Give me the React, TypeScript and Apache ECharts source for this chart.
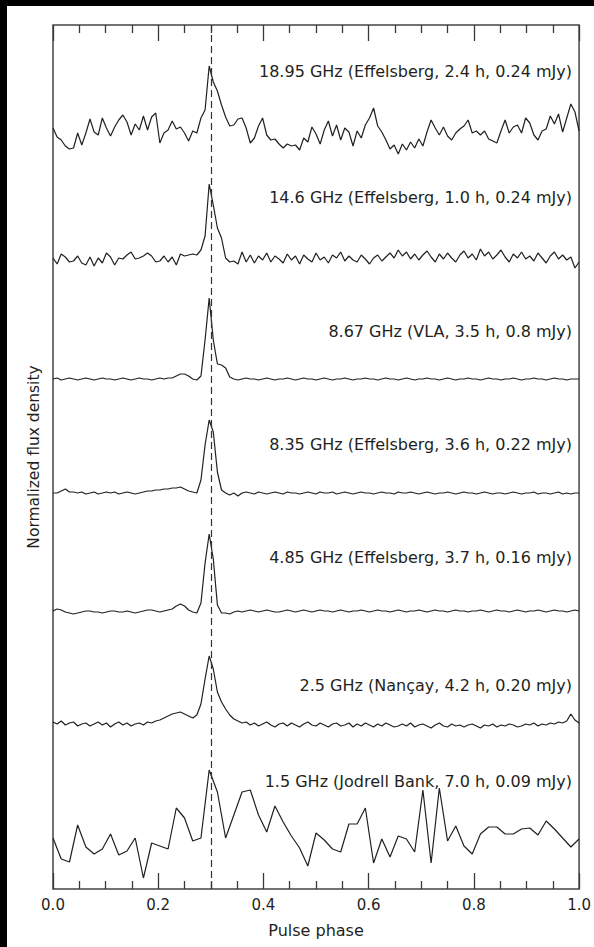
import React, { useEffect, useRef } from "react";
import * as echarts from "echarts";

// ---------- data ----------
const bandLabels = [
  "18.95 GHz (Effelsberg, 2.4 h, 0.24 mJy)",
  "14.6 GHz (Effelsberg, 1.0 h, 0.24 mJy)",
  "8.67 GHz (VLA, 3.5 h, 0.8 mJy)",
  "8.35 GHz (Effelsberg, 3.6 h, 0.22 mJy)",
  "4.85 GHz (Effelsberg, 3.7 h, 0.16 mJy)",
  "2.5 GHz (Nançay, 4.2 h, 0.20 mJy)",
  "1.5 GHz (Jodrell Bank, 7.0 h, 0.09 mJy)",
];

const phaseTickLabels = ["0.0", "0.2", "0.4", "0.6", "0.8", "1.0"];

// vertical offset (baseline) of each profile, normalized flux units
const offsets = [7.59, 6.31, 5.1, 3.96, 2.78, 1.65, 0.53];

const flux1895 = [
  0.02, -0.07, -0.10, -0.16, -0.19, -0.18, -0.03, -0.15, -0.03, 0.11,
  -0.02, -0.05, 0.12, 0.02, -0.06, 0.03, 0.10, 0.15, 0.08, -0.05,
  0.06, 0.00, 0.14, 0.00, 0.13, 0.17, -0.13, -0.03, 0.00, 0.09,
  0.01, 0.03, -0.03, -0.11, -0.01, -0.03, 0.12, 0.20, 0.64, 0.48,
  0.39, 0.25, 0.13, 0.04, 0.05, 0.11, 0.12, 0.02, -0.13, -0.08,
  0.04, 0.12, -0.05, -0.10, -0.09, -0.14, -0.18, -0.14, -0.16, -0.15,
  -0.20, -0.08, -0.12, 0.03, -0.04, -0.14, 0.00, 0.09, -0.06, 0.05,
  -0.10, 0.02, -0.02, -0.16, -0.01, -0.08, 0.05, 0.12, 0.22, 0.04,
  -0.02, -0.10, -0.19, -0.15, -0.24, -0.14, -0.20, -0.12, -0.18, -0.09,
  -0.16, -0.02, 0.10, 0.02, -0.05, 0.03, -0.06, -0.10, -0.03, 0.01,
  0.04, 0.10, -0.03, -0.01, -0.05, -0.01, -0.09, -0.11, -0.13, -0.01,
  0.10, -0.03, 0.03, 0.05, -0.03, 0.12, 0.07, -0.05, -0.10, -0.01,
  0.01, 0.14, 0.06, 0.16, -0.02, 0.12, 0.26, 0.18, -0.01,
];

const flux146 = [
  0.00, -0.06, 0.04, 0.01, -0.04, -0.03, 0.02, -0.05, -0.07, 0.01,
  -0.08, 0.00, -0.05, 0.05, 0.01, -0.07, 0.00, -0.01, 0.03, 0.06,
  -0.01, 0.00, 0.02, 0.05, 0.02, -0.04, -0.03, 0.02, -0.04, 0.01,
  -0.07, 0.04, 0.02, 0.03, 0.04, 0.03, 0.08, 0.22, 0.74, 0.53,
  0.30, 0.20, 0.00, -0.04, -0.03, -0.06, 0.06, -0.04, 0.03, -0.05,
  0.02, -0.02, 0.05, -0.04, 0.02, -0.01, -0.05, 0.04, -0.02, 0.02,
  -0.06, 0.03, -0.01, -0.04, 0.05, -0.02, 0.01, -0.05, 0.03, 0.00,
  0.06, -0.03, 0.02, -0.02, -0.04, 0.03, -0.01, -0.06, 0.00, 0.03,
  -0.03, 0.01, 0.05, 0.00, 0.08, 0.02, 0.06, -0.01, 0.04, -0.02,
  0.03, 0.07, 0.01, -0.04, 0.04, -0.01, 0.05, 0.00, -0.04, 0.03,
  0.07, 0.00, 0.04, -0.02, 0.09, 0.02, 0.06, -0.01, 0.03, 0.08,
  0.01, -0.04, 0.04, 0.00, 0.06, -0.01, 0.02, -0.03, 0.05, 0.00,
  -0.05, 0.02, 0.06, -0.01, 0.03, -0.02, 0.01, -0.10, -0.04,
];

const flux867 = [
  0.00, 0.01, -0.01, 0.00, 0.01, 0.00, -0.01, 0.00, 0.01, 0.00,
  -0.01, 0.00, 0.01, 0.00, 0.00, -0.01, 0.00, 0.01, 0.00, -0.01,
  0.00, 0.01, 0.00, 0.00, -0.01, 0.00, 0.01, 0.00, 0.01, 0.01,
  0.03, 0.05, 0.05, 0.03, 0.00, -0.01, 0.03, 0.39, 0.81, 0.39,
  0.15, 0.14, 0.11, 0.02, 0.00, -0.01, 0.00, 0.01, 0.00, 0.00,
  -0.01, 0.00, 0.01, 0.00, -0.01, 0.00, 0.00, 0.01, 0.00, -0.01,
  0.00, 0.01, 0.00, 0.00, -0.01, 0.00, 0.01, 0.00, -0.01, 0.00,
  0.00, 0.01, 0.00, -0.01, 0.00, 0.00, 0.01, 0.00, 0.00, -0.01,
  0.00, 0.01, 0.00, 0.00, -0.01, 0.00, 0.01, 0.00, -0.01, 0.00,
  0.00, 0.01, 0.00, 0.00, -0.01, 0.00, 0.01, 0.00, -0.01, 0.00,
  0.00, 0.01, 0.00, 0.00, -0.01, 0.00, 0.01, 0.00, 0.00, -0.01,
  0.00, 0.00, 0.01, 0.00, -0.01, 0.00, 0.00, 0.01, 0.00, 0.00,
  -0.01, 0.00, 0.01, 0.00, 0.00, -0.01, 0.00, 0.00, 0.00,
];

const flux835 = [
  0.00, 0.00, 0.02, 0.04, 0.01, 0.01, 0.00, 0.01, -0.01, 0.00,
  0.01, -0.01, 0.00, 0.01, 0.00, 0.01, -0.01, 0.00, 0.01, 0.00,
  -0.01, 0.00, 0.01, 0.02, 0.02, 0.03, 0.03, 0.04, 0.04, 0.05,
  0.05, 0.06, 0.04, 0.02, 0.01, 0.00, 0.13, 0.48, 0.73, 0.61,
  0.21, 0.03, 0.00, -0.02, 0.00, -0.03, 0.00, 0.01, 0.00, -0.01,
  0.01, 0.00, -0.01, 0.00, 0.01, 0.00, -0.01, 0.01, 0.00, 0.00,
  -0.01, 0.00, 0.01, 0.00, -0.01, 0.01, 0.00, 0.00, 0.01, -0.01,
  0.00, 0.01, 0.00, -0.01, 0.00, 0.01, 0.00, 0.00, -0.01, 0.00,
  0.01, 0.00, 0.00, -0.01, 0.01, 0.00, 0.00, 0.01, 0.00, -0.01,
  0.00, 0.01, 0.00, -0.01, 0.00, 0.00, 0.01, 0.00, -0.01, 0.00,
  0.01, 0.00, 0.00, -0.01, 0.00, 0.01, 0.00, -0.01, 0.00, 0.00,
  -0.01, 0.00, 0.01, 0.00, -0.01, 0.00, 0.00, 0.01, -0.01, 0.00,
  0.00, -0.01, 0.00, 0.01, -0.01, 0.00, -0.01, 0.00, 0.00,
];

const flux485 = [
  0.00, 0.02, 0.01, -0.01, -0.02, -0.03, -0.02, -0.01, 0.00, 0.00,
  -0.01, -0.01, -0.02, -0.01, 0.00, 0.00, -0.01, -0.01, 0.00, -0.01,
  -0.02, -0.01, 0.00, 0.01, 0.01, 0.00, -0.01, 0.00, 0.01, 0.02,
  0.05, 0.07, 0.05, 0.01, -0.01, -0.02, 0.08, 0.48, 0.77, 0.52,
  0.06, -0.02, -0.02, -0.03, -0.01, 0.00, -0.01, 0.00, 0.01, 0.00,
  -0.01, 0.00, 0.01, 0.00, -0.01, -0.01, 0.00, 0.01, 0.00, -0.01,
  0.00, 0.01, 0.00, -0.01, 0.00, 0.01, 0.00, 0.00, -0.01, 0.00,
  0.01, 0.00, -0.01, 0.00, 0.00, 0.01, 0.00, -0.01, 0.00, 0.01,
  0.00, 0.00, -0.01, 0.00, 0.01, 0.00, -0.01, 0.00, 0.00, 0.01,
  0.00, -0.01, 0.00, 0.01, 0.00, 0.00, -0.01, 0.00, 0.01, 0.00,
  0.00, -0.01, 0.00, 0.00, 0.01, 0.00, -0.01, 0.00, 0.01, 0.00,
  0.00, -0.01, 0.00, 0.01, 0.00, -0.01, 0.00, 0.00, 0.01, 0.00,
  -0.01, 0.00, 0.01, 0.00, 0.00, -0.01, 0.00, 0.01, 0.00,
];

const flux25 = [
  0.02, 0.00, 0.03, -0.01, 0.01, 0.02, -0.02, 0.00, 0.01, -0.02,
  0.00, 0.02, -0.01, 0.01, -0.03, 0.00, 0.02, -0.01, 0.01, -0.02,
  0.00, 0.01, -0.01, 0.02, 0.01, 0.03, 0.04, 0.06, 0.08, 0.10,
  0.11, 0.12, 0.10, 0.08, 0.06, 0.09, 0.20, 0.45, 0.68, 0.55,
  0.32, 0.22, 0.15, 0.09, 0.05, 0.03, 0.01, 0.02, -0.01, 0.01,
  -0.02, 0.00, 0.02, -0.01, -0.03, 0.00, 0.01, -0.02, 0.01, -0.01,
  -0.03, 0.00, 0.02, -0.01, -0.02, 0.01, -0.01, -0.03, 0.00, 0.01,
  -0.02, -0.01, 0.01, -0.03, 0.00, -0.02, 0.01, -0.01, -0.03, 0.00,
  -0.02, 0.01, -0.01, -0.03, -0.02, 0.00, -0.02, 0.01, -0.03, -0.01,
  0.00, -0.02, -0.04, -0.01, 0.01, -0.02, -0.03, 0.00, -0.02, -0.01,
  -0.03, -0.01, 0.00, -0.02, -0.04, -0.01, -0.02, 0.00, -0.03, -0.01,
  -0.02, 0.00, -0.01, -0.03, -0.02, 0.00, -0.01, 0.01, -0.02, 0.00,
  -0.01, 0.01, 0.00, 0.02, 0.01, 0.03, 0.10, 0.04, 0.01,
];

const flux15 = [
  -0.02, -0.23, -0.26, 0.11, -0.11, -0.18, -0.13, 0.02, -0.19, -0.15,
  -0.02, -0.42, -0.07, -0.10, -0.13, 0.28, 0.18, -0.05, -0.02, 0.66,
  0.44, -0.02, 0.21, 0.44, 0.46, 0.21, 0.04, 0.30, 0.14, 0.00,
  -0.12, -0.30, 0.03, -0.04, -0.13, -0.16, 0.12, 0.12, 0.28, -0.27,
  -0.03, -0.21, 0.00, -0.03, -0.16, 0.46, -0.27, 0.48, -0.05, 0.10,
  -0.10, -0.18, 0.02, 0.09, 0.09, 0.02, 0.02, 0.07, 0.08, 0.01,
  0.15, 0.07, -0.02, -0.11, -0.03,
];

const profiles = [flux1895, flux146, flux867, flux835, flux485, flux25, flux15];
const mainPulsePhase = 0.3;

// ---------- layout / style ----------
const INK = "#231f20";
const FONT = "DejaVu Sans";
const labelCenterY = [65, 191, 325, 438, 551, 679, 775];

export default function App() {
  const ref = useRef<HTMLDivElement>(null);

  useEffect(() => {
    if (!ref.current) return;
    const chart = echarts.init(ref.current, null, { renderer: "svg" });

    const series: any[] = profiles.map((vals, k) => {
      const s: any = {
        type: "line",
        xAxisIndex: 0,
        yAxisIndex: 0,
        data: vals.map((v, i) => [i / (vals.length - 1), offsets[k] + v]),
        showSymbol: false,
        symbol: "none",
        silent: true,
        lineStyle: { color: INK, width: 1.2 },
      };
      if (k === 0) {
        s.markLine = {
          silent: true,
          symbol: ["none", "none"],
          label: { show: false },
          lineStyle: { color: "#333", width: 1.2, type: [7, 4] },
          data: [{ xAxis: mainPulsePhase }],
        };
      }
      return s;
    });

    const xCommon = {
      type: "value",
      min: 0,
      max: 1,
      interval: 0.2,
      axisLine: { show: false },
      splitLine: { show: false },
      axisTick: { show: true, inside: true, length: 16, lineStyle: { color: "#3a3a3a", width: 1.3 } },
      minorTick: { show: true, splitNumber: 4, length: 8, lineStyle: { color: "#3a3a3a", width: 1.3 } },
      minorSplitLine: { show: false },
    };

    chart.setOption({
      animation: false,
      backgroundColor: "#ffffff",
      grid: {
        left: 46,
        top: 19,
        right: 11,
        bottom: 58,
        show: true,
        borderColor: "#444",
        borderWidth: 1.5,
        backgroundColor: "transparent",
      },
      xAxis: [
        {
          ...xCommon,
          position: "bottom",
          name: "Pulse phase",
          nameLocation: "middle",
          nameGap: 33,
          nameTextStyle: { color: INK, fontSize: 16, fontFamily: FONT },
          axisLabel: {
            color: INK,
            fontSize: 15,
            fontFamily: FONT,
            margin: 8,
            formatter: (v: number) => phaseTickLabels[Math.round(v / 0.2)],
          },
        },
        {
          ...xCommon,
          position: "top",
          axisLabel: { show: false },
        },
      ],
      yAxis: {
        type: "value",
        min: 0,
        max: 8.64,
        axisLine: { show: false },
        axisTick: { show: false },
        axisLabel: { show: false },
        splitLine: { show: false },
        name: "Normalized flux density",
        nameLocation: "middle",
        nameGap: 11,
        nameTextStyle: { color: INK, fontSize: 15.5, fontFamily: FONT },
      },
      graphic: bandLabels.map((t, k) => ({
        type: "text",
        x: 565,
        y: labelCenterY[k],
        silent: true,
        style: {
          text: t,
          align: "right",
          verticalAlign: "middle",
          fontSize: 16,
          fontFamily: FONT,
          fill: INK,
        },
      })),
      series,
    });

    return () => chart.dispose();
  }, []);

  return (
    <div style={{ position: "absolute", left: 0, top: 0, width: 594, height: 947, background: "#000" }}>
      <div
        ref={ref}
        style={{ position: "absolute", left: 7, top: 6, width: 587, height: 941, background: "#fff" }}
      />
    </div>
  );
}
